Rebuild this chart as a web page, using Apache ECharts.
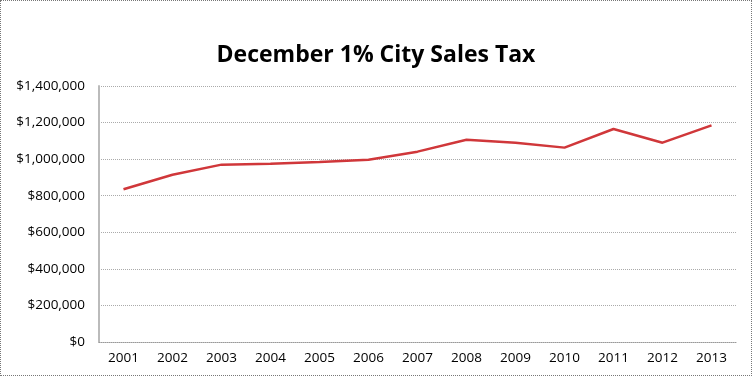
<!DOCTYPE html>
<html>
<head>
<meta charset="utf-8">
<script src="https://cdn.jsdelivr.net/npm/echarts@6/dist/echarts.min.js"></script>
<style>
html,body{margin:0;padding:0;background:#fff;}
#c{width:750px;height:374px;border:1px dotted #777;}
</style>
</head>
<body>
<div id="c"></div>
<script>
const categories = ['2001','2002','2003','2004','2005','2006','2007','2008','2009','2010','2011','2012','2013'];
const salesTax = [835000, 915000, 970000, 975000, 984000, 997000, 1041000, 1106000, 1090000, 1063000, 1165000, 1090000, 1185000];
const title = 'December 1% City Sales Tax';

const chart = echarts.init(document.getElementById('c'));
chart.setOption({
  animation: false,
  title: {
    text: title,
    left: 'center',
    top: 38,
    textStyle: {fontFamily: 'Open Sans', fontWeight: 'bold', fontSize: 23, color: '#000'}
  },
  grid: {left: 98, right: 15, top: 85, bottom: 33},
  xAxis: {
    type: 'category',
    data: categories,
    boundaryGap: true,
    axisLine: {lineStyle: {color: '#999', type: 'dotted', width: 1}},
    axisTick: {show: false},
    axisLabel: {fontFamily: 'Open Sans', fontSize: 13.5, color: '#000', margin: 9}
  },
  yAxis: {
    type: 'value',
    min: 0, max: 1400000, interval: 200000,
    axisLine: {show: true, lineStyle: {color: '#bbb', width: 2}},
    axisTick: {show: false},
    splitLine: {lineStyle: {color: '#aaa', type: 'dotted', width: 1}},
    axisLabel: {
      fontFamily: 'Open Sans', fontSize: 13.5, color: '#000', margin: 14,
      formatter: v => '$' + v.toLocaleString('en-US')
    }
  },
  series: [{
    type: 'line',
    data: salesTax,
    symbol: 'none',
    lineStyle: {color: '#D0373A', width: 2.5}
  }]
});
</script>
</body>
</html>
